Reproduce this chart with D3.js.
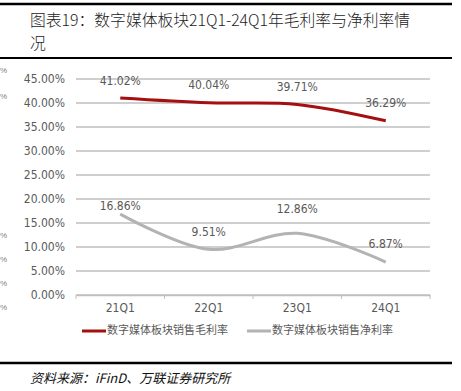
<!DOCTYPE html>
<html>
<head>
<meta charset="utf-8">
<script src="https://cdn.jsdelivr.net/npm/d3@7"></script>
<style>
    body { margin: 0; background: #fff; }
    svg { display: block; }
    .tick text { font-family: "Liberation Sans Narrow", "DejaVu Sans Condensed", "Liberation Sans", sans-serif; }
</style>
</head>
<body>
<div id="chart"></div>
<script>
const quarters = ["21Q1", "22Q1", "23Q1", "24Q1"];
const grossMargin = [41.02, 40.04, 39.71, 36.29];
const netMargin = [16.86, 9.51, 12.86, 6.87];
const seriesNames = ["数字媒体板块销售毛利率", "数字媒体板块销售净利率"];
const yTicks = [0, 5, 10, 15, 20, 25, 30, 35, 40, 45];

const ctx = {
    W: 461,
    H: 391,
    left: 76,
    right: 430,
    top: 79,
    bottom: 295,
};

function createViz() {
    const svg = d3.select("#chart")
        .append("svg")
        .attr("width", ctx.W)
        .attr("height", ctx.H);

    // header / footer rules
    [4, 58, 363].forEach(y => {
        svg.append("line")
            .attr("x1", 0).attr("x2", 452)
            .attr("y1", y).attr("y2", y)
            .attr("stroke", "#000")
            .attr("stroke-width", y === 58 ? 2 : 2.5);
    });

    svg.append("text")
        .attr("x", 30).attr("y", 26)
        .attr("font-family", "Noto Sans CJK SC, sans-serif")
        .attr("font-size", 15.8)
        .attr("font-weight", 300)
        .attr("fill", "#222")
        .text("图表19：数字媒体板块21Q1-24Q1年毛利率与净利率情");
    svg.append("text")
        .attr("x", 30).attr("y", 49)
        .attr("font-family", "Noto Sans CJK SC, sans-serif")
        .attr("font-size", 15.8)
        .attr("font-weight", 300)
        .attr("fill", "#222")
        .text("况");

    svg.append("text")
        .attr("x", 30).attr("y", 383)
        .attr("font-family", "Noto Sans CJK SC, sans-serif")
        .attr("font-size", 13)
        .attr("font-style", "italic")
        .attr("fill", "#111")
        .text("资料来源：iFinD、万联证券研究所");

    // fragments of the neighbouring chart at the left edge
    [73, 99, 238, 262, 286, 310].forEach(y => {
        svg.append("text")
            .attr("x", 0).attr("y", y)
            .attr("font-family", "Liberation Sans Narrow, sans-serif")
            .attr("font-size", 8)
            .attr("fill", "#7f7f7f")
            .text("%");
    });

    const x = d3.scaleBand().domain(quarters).range([ctx.left, ctx.right]);
    const y = d3.scaleLinear().domain([0, 45]).range([ctx.bottom, ctx.top]);

    // gridlines
    svg.append("g")
        .selectAll("line")
        .data(yTicks)
        .join("line")
        .attr("x1", ctx.left).attr("x2", ctx.right)
        .attr("y1", d => y(d)).attr("y2", d => y(d))
        .attr("stroke", "#bfbfbf")
        .attr("stroke-width", 1.5);

    const yAxis = svg.append("g")
        .attr("transform", `translate(${ctx.left - 8},0)`)
        .call(d3.axisLeft(y).tickValues(yTicks).tickSize(0).tickFormat(d => d3.format(".2f")(d) + "%"));
    yAxis.select(".domain").remove();
    yAxis.selectAll("text").attr("font-size", 12).attr("fill", "#595959").attr("dx", 0);

    const xAxis = svg.append("g")
        .attr("transform", `translate(0,${ctx.bottom})`)
        .call(d3.axisBottom(x).tickSize(0).tickPadding(8));
    xAxis.select(".domain").attr("stroke", "#bfbfbf").attr("stroke-width", 1.5);
    xAxis.selectAll("text").attr("font-size", 12).attr("fill", "#595959");
    // category boundary ticks
    const bounds = quarters.map(q => x(q)).concat([ctx.right]);
    xAxis.selectAll(".bound")
        .data(bounds)
        .join("line")
        .attr("class", "bound")
        .attr("x1", d => d).attr("x2", d => d)
        .attr("y1", 0).attr("y2", 4)
        .attr("stroke", "#bfbfbf");

    const cx = q => x(q) + x.bandwidth() / 2;

    const series = [
        { name: seriesNames[0], values: grossMargin, color: "#a50f0f", dy: [-17, -17, -17, -17] },
        { name: seriesNames[1], values: netMargin, color: "#b3b3b3", dy: [-8, -17, -24, -18] },
    ];

    const line = d3.line()
        .x((d, i) => cx(quarters[i]))
        .y(d => y(d))
        .curve(d3.curveCatmullRom.alpha(0.5));

    series.forEach(s => {
        svg.append("path")
            .datum(s.values)
            .attr("d", line)
            .attr("fill", "none")
            .attr("stroke", s.color)
            .attr("stroke-width", 3)
            .attr("stroke-linecap", "butt");

        svg.append("g")
            .selectAll("text")
            .data(s.values)
            .join("text")
            .attr("x", (d, i) => cx(quarters[i]))
            .attr("y", (d, i) => y(d) + s.dy[i])
            .attr("text-anchor", "middle")
            .attr("dominant-baseline", "middle")
            .attr("font-family", "Liberation Sans Narrow, DejaVu Sans Condensed, sans-serif")
            .attr("font-size", 12)
            .attr("fill", "#595959")
            .text(d => d3.format(".2f")(d) + "%");
    });

    // legend
    const legend = svg.append("g").attr("transform", "translate(82,331)");
    const legendX = [0, 165];
    series.forEach((s, i) => {
        const g = legend.append("g").attr("transform", `translate(${legendX[i]},0)`);
        g.append("line")
            .attr("x1", 0).attr("x2", 24)
            .attr("stroke", s.color)
            .attr("stroke-width", 3);
        g.append("text")
            .attr("x", 25)
            .attr("dominant-baseline", "middle")
            .attr("font-family", "Noto Sans CJK SC, sans-serif")
            .attr("font-size", 11)
            .attr("fill", "#595959")
            .text(s.name);
    });
}

createViz();
</script>
</body>
</html>
